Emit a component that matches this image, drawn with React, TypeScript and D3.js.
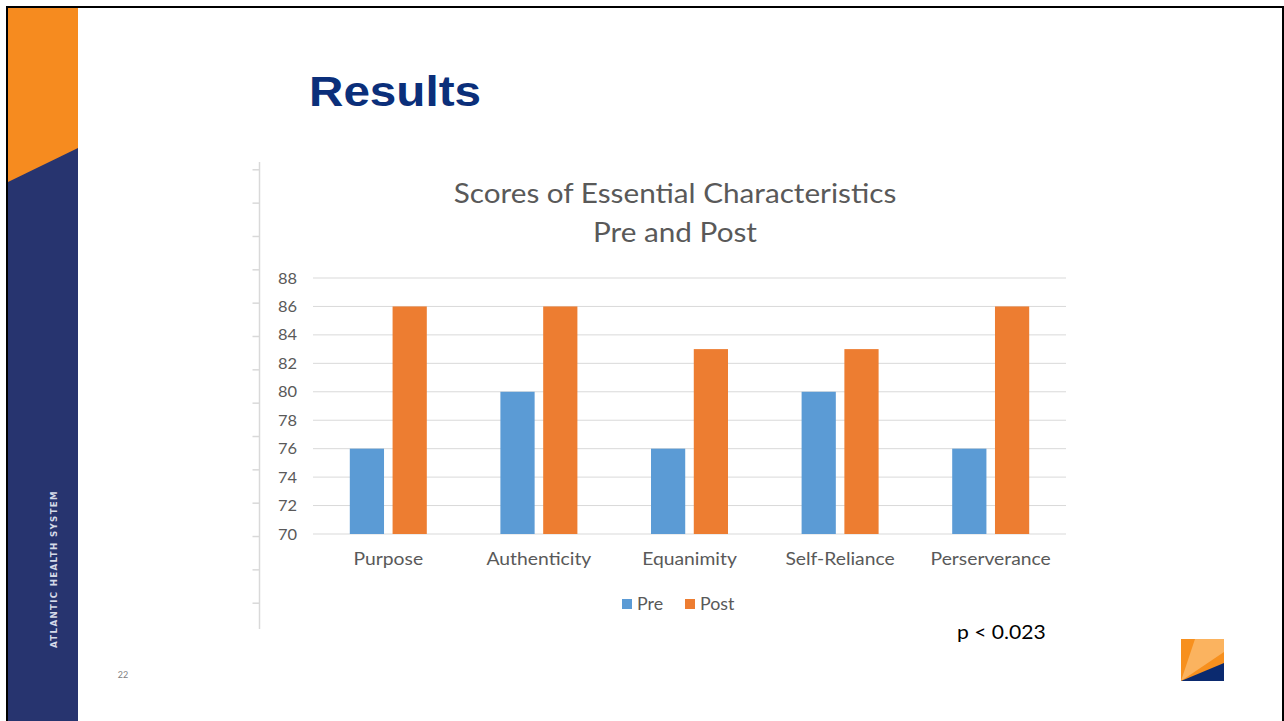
import React, { useRef, useEffect } from 'react';
import * as d3 from 'd3';

// chart data
const categories = ['Purpose', 'Authenticity', 'Equanimity', 'Self-Reliance', 'Perserverance'];
const seriesNames = ['Pre', 'Post'];
const preValues = [76, 80, 76, 80, 76];
const postValues = [86, 86, 83, 83, 86];
const yTicks = [70, 72, 74, 76, 78, 80, 82, 84, 86, 88];
const titleLines = ['Scores of Essential Characteristics', 'Pre and Post'];

const W = 1284;
const H = 721;
const COLORS: Record<string, string> = { Pre: '#5b9bd5', Post: '#ed7d31' };
const TEXT_GRAY = '#595959';
const GRID = '#d9d9d9';
const FONT = 'Lato, "Open Sans", sans-serif';

// the slide is stretched sideways, so text is widened a bit
function stretch(sel: any, factor: number) {
  sel.each(function (this: SVGTextElement) {
    const len = this.getComputedTextLength();
    d3.select(this).attr('textLength', len * factor).attr('lengthAdjust', 'spacingAndGlyphs');
  });
}

const App: React.FC = () => {
  const svgRef = useRef<SVGSVGElement | null>(null);

  useEffect(() => {
    document.body.style.margin = '0';
    const svg = d3.select(svgRef.current);
    svg.selectAll('*').remove();

    // slide background + border
    svg.append('rect').attr('x', 0).attr('y', 0).attr('width', W).attr('height', H).attr('fill', '#fff');
    svg.append('rect')
      .attr('x', 7).attr('y', 7).attr('width', W - 8).attr('height', H + 20)
      .attr('fill', 'none').attr('stroke', '#000').attr('stroke-width', 2);

    // left sidebar
    svg.append('rect').attr('x', 8).attr('y', 8).attr('width', 70).attr('height', H).attr('fill', '#27346f');
    svg.append('path').attr('d', 'M8,8 L78,8 L78,148 L8,182 Z').attr('fill', '#f68b1f');
    svg.append('text')
      .attr('transform', 'translate(57,569) rotate(-90)')
      .attr('text-anchor', 'middle')
      .attr('font-family', '"DejaVu Sans", sans-serif')
      .attr('font-weight', 'bold')
      .attr('font-size', 8.5)
      .attr('letter-spacing', 1.3)
      .attr('fill', '#d5dae8')
      .attr('textLength', 158)
      .attr('lengthAdjust', 'spacingAndGlyphs')
      .text('ATLANTIC HEALTH SYSTEM');

    // page number
    svg.append('text').attr('x', 123).attr('y', 678).attr('text-anchor', 'middle')
      .attr('font-family', FONT).attr('font-size', 9).attr('fill', '#7f7f7f').text('22');

    // logo bottom right
    const logo = svg.append('g').attr('transform', 'translate(1181,639)');
    logo.append('rect').attr('width', 43).attr('height', 42).attr('fill', '#f7901e');
    logo.append('path').attr('d', 'M0,42 L14,0 L43,0 L43,13 Z').attr('fill', '#fbb35f');
    logo.append('path').attr('d', 'M0,42 L43,24 L43,42 Z').attr('fill', '#0b2a6f');

    // heading
    svg.append('text')
      .attr('x', 309).attr('y', 106)
      .attr('font-family', '"Liberation Sans", Arial, sans-serif')
      .attr('font-weight', 'bold').attr('font-size', 43)
      .attr('fill', '#0b2f7a')
      .attr('textLength', 172).attr('lengthAdjust', 'spacingAndGlyphs')
      .text('Results');

    // decorative ruler at left of chart area
    const rulerScale = d3.scaleLinear().domain([0, 13]).range([169.3, 602.7]);
    const ruler = svg.append('g').attr('transform', 'translate(259.5,0)');
    ruler.call(d3.axisLeft(rulerScale).ticks(13).tickSize(7).tickSizeOuter(0).tickFormat(() => ''));
    ruler.select('.domain').remove();
    ruler.selectAll('line').attr('stroke', GRID).attr('stroke-width', 1.5);
    ruler.append('line').attr('y1', 162).attr('y2', 629).attr('stroke', GRID).attr('stroke-width', 1.5);

    // chart scales
    const plotLeft = 313;
    const plotRight = 1066;
    const x0 = d3.scaleBand().domain(categories).range([plotLeft, plotRight]).padding(0);
    const pairWidth = 77;
    const x1 = d3.scaleBand().domain(seriesNames)
      .range([(x0.bandwidth() - pairWidth) / 2, (x0.bandwidth() + pairWidth) / 2])
      .paddingInner(0.2).paddingOuter(0);
    const y = d3.scaleLinear().domain([70, 88]).range([534, 278]);

    // gridlines
    const grid = svg.append('g');
    grid.selectAll('line').data(yTicks).enter().append('line')
      .attr('x1', plotLeft).attr('x2', plotRight)
      .attr('y1', (d: number) => y(d)).attr('y2', (d: number) => y(d))
      .attr('stroke', GRID).attr('stroke-width', 1);

    // y tick labels
    const yLabels = svg.append('g').selectAll('text').data(yTicks).enter().append('text')
      .attr('x', 297).attr('y', (d: number) => y(d))
      .attr('dy', '0.36em')
      .attr('text-anchor', 'end')
      .attr('font-family', FONT).attr('font-size', 15.5)
      .attr('fill', TEXT_GRAY)
      .text((d: number) => String(d));
    stretch(yLabels, 1.06);

    // bars
    const rows = categories.map((c, i) => ({ cat: c, values: [
      { name: 'Pre', value: preValues[i] },
      { name: 'Post', value: postValues[i] },
    ] }));
    const groups = svg.append('g').selectAll('g').data(rows).enter().append('g')
      .attr('transform', (d: any) => `translate(${x0(d.cat)},0)`);
    groups.selectAll('rect').data((d: any) => d.values).enter().append('rect')
      .attr('x', (d: any) => x1(d.name)!)
      .attr('width', x1.bandwidth())
      .attr('y', (d: any) => y(d.value))
      .attr('height', (d: any) => y(70) - y(d.value))
      .attr('fill', (d: any) => COLORS[d.name]);

    // category labels
    const catLabels = svg.append('g').selectAll('text').data(categories).enter().append('text')
      .attr('x', (d: string) => x0(d)! + x0.bandwidth() / 2)
      .attr('y', 559).attr('dy', '0.36em')
      .attr('text-anchor', 'middle')
      .attr('font-family', FONT).attr('font-size', 16.5)
      .attr('fill', TEXT_GRAY)
      .text((d: string) => d);
    stretch(catLabels, 1.17);

    // chart title
    const titles = svg.append('g').selectAll('text').data(titleLines).enter().append('text')
      .attr('x', 675).attr('y', (_: string, i: number) => 203 + i * 39)
      .attr('text-anchor', 'middle')
      .attr('font-family', FONT).attr('font-size', 27)
      .attr('fill', TEXT_GRAY)
      .text((d: string) => d);
    stretch(titles, 1.1);

    // legend
    const legendX = [622, 685];
    const legend = svg.append('g').selectAll('g').data(seriesNames).enter().append('g')
      .attr('transform', (_: string, i: number) => `translate(${legendX[i]},604)`);
    legend.append('rect').attr('x', 0).attr('y', -5).attr('width', 10).attr('height', 10)
      .attr('fill', (d: string) => COLORS[d]);
    const legendText = legend.append('text').attr('x', 15).attr('dy', '0.36em')
      .attr('font-family', FONT).attr('font-size', 16.5).attr('fill', TEXT_GRAY)
      .text((d: string) => d);
    stretch(legendText, 1.08);

    // significance note
    const note = svg.append('text').attr('x', 957).attr('y', 639)
      .attr('font-family', FONT).attr('font-size', 19).attr('fill', '#000')
      .text('p < 0.023');
    stretch(note, 1.11);
  }, []);

  return <svg ref={svgRef} width={W} height={H} style={{ display: 'block' }} />;
};

export default App;
